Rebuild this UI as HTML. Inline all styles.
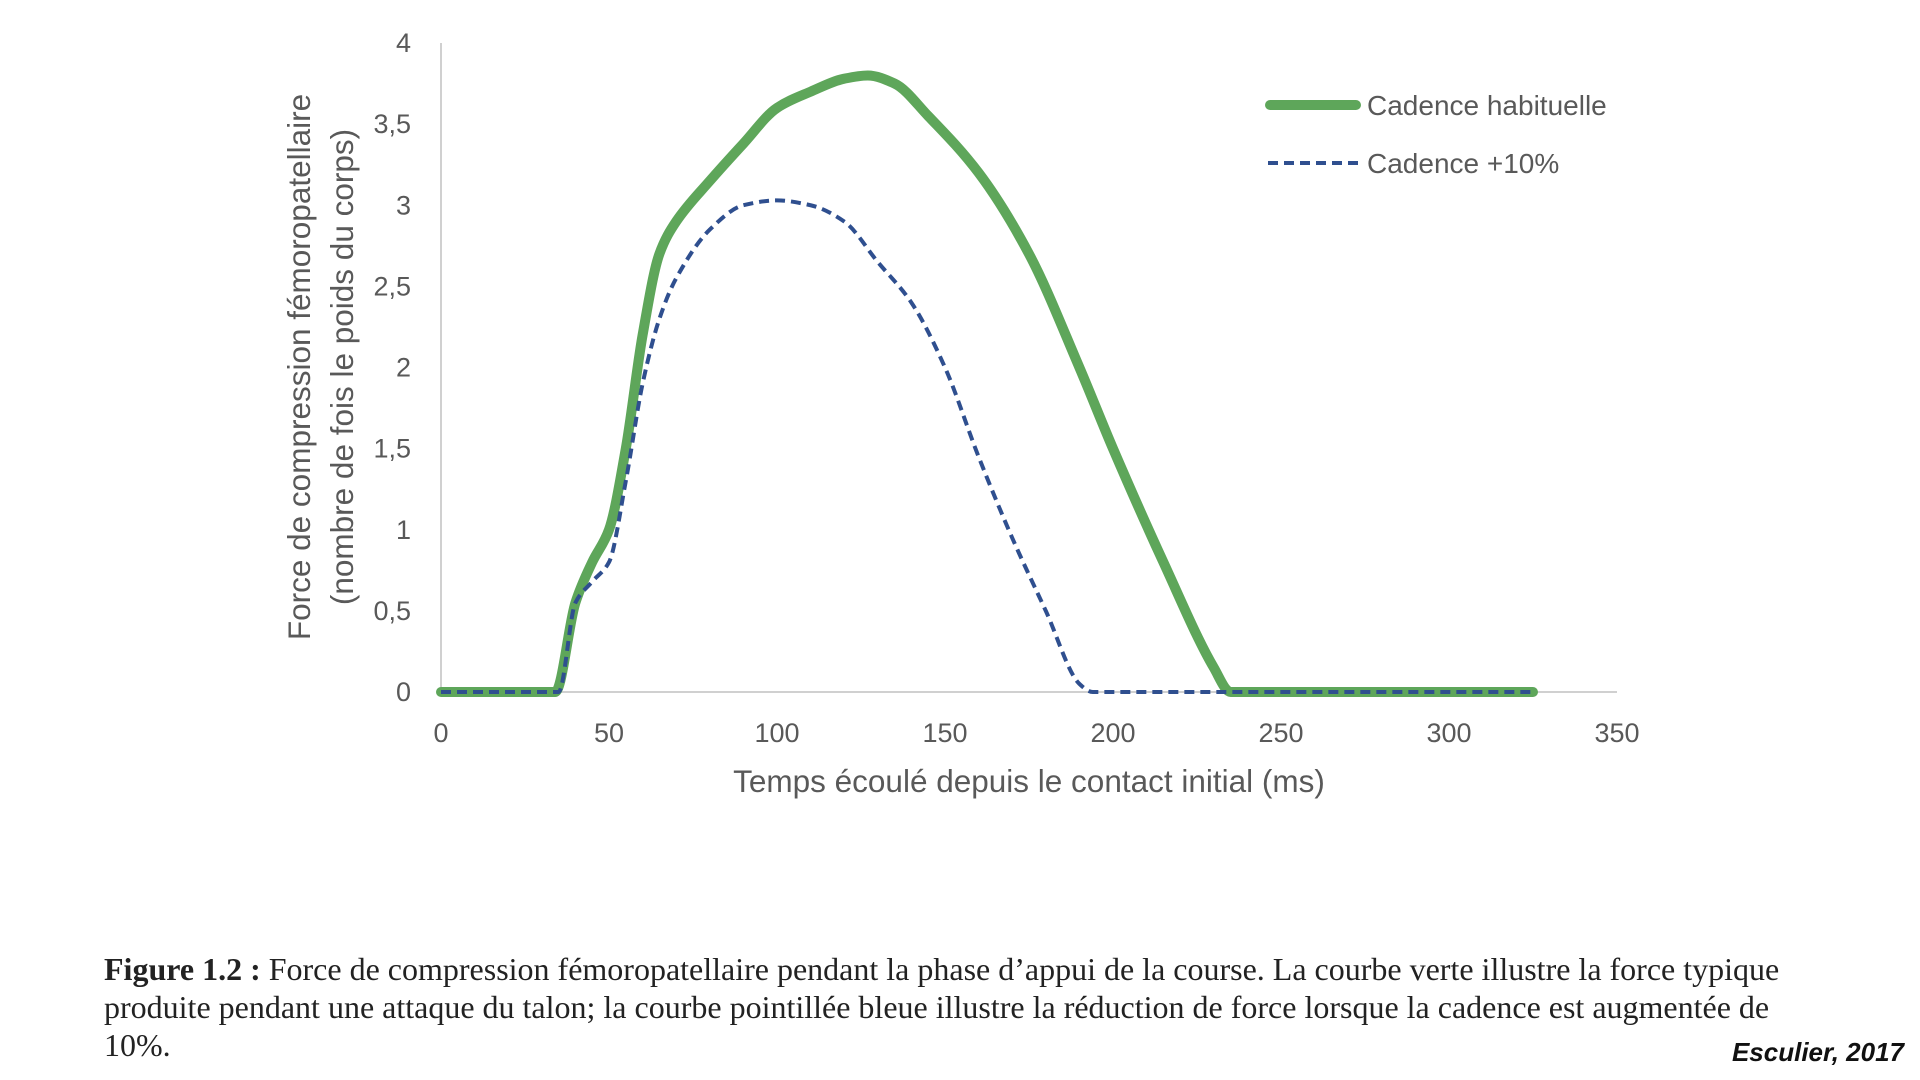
<!DOCTYPE html>
<html><head><meta charset="utf-8"><style>
html,body{margin:0;padding:0;background:#fff;width:1920px;height:1080px;overflow:hidden}
svg{position:absolute;left:0;top:0}
.cap{position:absolute;left:104px;top:950px;width:1712px;font-family:"Liberation Serif",serif;font-size:32px;line-height:38px;color:#222}
.src{position:absolute;right:16px;top:1037px;font-family:"Liberation Sans",sans-serif;font-weight:bold;font-style:italic;font-size:26px;color:#111}
</style></head><body>
<svg id="chart" width="1920" height="1080" xmlns="http://www.w3.org/2000/svg">
<g id="axes"></g>
<g id="series"></g>
<text transform="translate(310,367) rotate(-90)" text-anchor="middle" font-family="Liberation Sans, sans-serif" font-size="31.5" fill="#595959">Force de compression fémoropatellaire</text>
<text transform="translate(353,367) rotate(-90)" text-anchor="middle" font-family="Liberation Sans, sans-serif" font-size="31.5" fill="#595959">(nombre de fois le poids du corps)</text>
<text x="1029" y="792" text-anchor="middle" font-family="Liberation Sans, sans-serif" font-size="31.5" fill="#595959">Temps écoulé depuis le contact initial (ms)</text>
<g>
<line x1="1270" y1="105" x2="1356" y2="105" stroke="#5ea65a" stroke-width="10" stroke-linecap="round"/>
<text x="1367" y="115" font-family="Liberation Sans, sans-serif" font-size="28" fill="#595959">Cadence habituelle</text>
<line x1="1268" y1="163" x2="1360" y2="163" stroke="#2f4f8f" stroke-width="4" stroke-dasharray="10 6"/>
<text x="1367" y="173" font-family="Liberation Sans, sans-serif" font-size="28" fill="#595959">Cadence +10%</text>
</g>
</svg>
<div class="cap"><b>Figure 1.2 :</b> Force de compression fémoropatellaire pendant la phase d’appui de la course. La courbe verte illustre la force typique produite pendant une attaque du talon; la courbe pointillée bleue illustre la réduction de force lorsque la cadence est augmentée de 10%.</div>
<div class="src">Esculier, 2017</div>
<script>
const xTicks = [0,50,100,150,200,250,300,350];
const yTicks = [0,0.5,1,1.5,2,2.5,3,3.5,4];
const yTickLabels = ["0","0,5","1","1,5","2","2,5","3","3,5","4"];
const habX = [0,34,40,45,50,55,60,65,70,80,90,100,110,120,127,135,145,160,175,190,200,215,230,235,325];
const habY = [0,0,0.55,0.8,1.0,1.5,2.2,2.7,2.9,3.15,3.38,3.6,3.7,3.78,3.8,3.75,3.55,3.2,2.7,2.0,1.5,0.8,0.15,0,0];
const plusX = [0,35,40,45,50,55,60,65,70,80,90,100,110,120,130,140,150,160,170,180,190,194,325];
const plusY = [0,0,0.55,0.68,0.8,1.3,1.9,2.3,2.55,2.85,3.0,3.03,3.0,2.9,2.65,2.4,2.0,1.45,0.95,0.5,0.05,0,0];
const X0=441,X1=1617,Y0=692,Y1=43;
const sx=v=>X0+(v-0)/350*(X1-X0);
const sy=v=>Y0-(v/4)*(Y0-Y1);
const NS="http://www.w3.org/2000/svg";
const axes=document.getElementById('axes'), series=document.getElementById('series');
function mk(t,a,p){const e=document.createElementNS(NS,t);for(const k in a)e.setAttribute(k,a[k]);p.appendChild(e);return e;}
let l=mk('line',{x1:X0,y1:Y1,x2:X0,y2:Y0,stroke:'#d0d0d0','stroke-width':2},axes);


l=mk('line',{x1:X0,y1:Y0,x2:X1,y2:Y0,stroke:'#d0d0d0','stroke-width':2},axes);


xTicks.forEach(v=>{const t=mk('text',{x:sx(v),y:742,'text-anchor':'middle','font-family':'Liberation Sans, sans-serif','font-size':27,fill:'#595959'},axes);t.textContent=v;

});
yTicks.forEach((v,i)=>{const t=mk('text',{x:411,y:sy(v)+9,'text-anchor':'end','font-family':'Liberation Sans, sans-serif','font-size':27,fill:'#595959'},axes);t.textContent=yTickLabels[i];

});
function pathOf(xs,ys){
  const px=xs.map(sx), py=ys.map(sy), n=px.length;
  const d=[],m=new Array(n);
  for(let i=0;i<n-1;i++)d.push((py[i+1]-py[i])/(px[i+1]-px[i]));
  m[0]=d[0];m[n-1]=d[n-2];
  for(let i=1;i<n-1;i++){ if(d[i-1]*d[i]<=0)m[i]=0; else m[i]=2/(1/d[i-1]+1/d[i]); }
  let s='M'+px[0]+','+py[0];
  for(let i=0;i<n-1;i++){const h=(px[i+1]-px[i])/3;
    s+=' C'+(px[i]+h)+','+(py[i]+m[i]*h)+' '+(px[i+1]-h)+','+(py[i+1]-m[i+1]*h)+' '+px[i+1]+','+py[i+1];}
  return s;}
const g=mk('path',{d:pathOf(habX,habY),fill:'none',stroke:'#5ea65a','stroke-width':10,'stroke-linejoin':'round','stroke-linecap':'round'},series);


const b=mk('path',{d:pathOf(plusX,plusY),fill:'none',stroke:'#2f4f8f','stroke-width':4,'stroke-dasharray':'10 6'},series);


</script>
</body></html>
